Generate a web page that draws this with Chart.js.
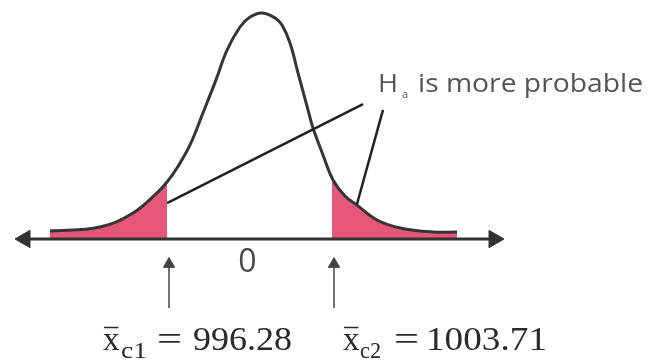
<!DOCTYPE html>
<html>
<head>
<meta charset="utf-8">
<script src="https://cdn.jsdelivr.net/npm/chart.js@4.4.1/dist/chart.umd.min.js"></script>
<style>
  html, body { margin: 0; padding: 0; background: #fff; }
  #wrap { width: 655px; height: 363px; position: relative; }
</style>
</head>
<body>
<div id="wrap"><canvas id="chart"></canvas></div>
<script>
// Sampling distribution sketch: positions along the axis and curve height (peak = 100)
const curveX = [-7.9, -5.9, -4.58, -3.62, -3.22, -2.82, -2.3, -1.78, -1.26, -0.82, -0.3, 0.1, 0.58,
                1.1, 1.38, 1.7, 2.02, 2.42, 2.62, 3.02, 3.42, 3.9, 4.38, 5.18, 6.1, 7.42, 8.38];
const curveY = [3.5, 5.3, 11.5, 20.4, 25.2, 31.4, 41.6, 55.8, 70.4, 83.6, 93.8, 98.2, 100,
                97.8, 94.7, 86.7, 73.5, 57.1, 49.1, 37.2, 26.1, 19.0, 15.0, 8.4, 4.9, 3.1, 3.1];

// rejection-region boundaries and the sample means they stand for
const criticalX = [-3.2, 3.4];
const criticalNames = ['c1', 'c2'];
const criticalValues = ['996.28', '1003.71'];
const centerLabel = '0';
const hypothesisText = 'is more probable';

// axis ends (arrowhead centres) and the pointer lines from the hypothesis text
const axisEnds = [-8.9, 9.86];
const pointerFrom = [{ x: 4.62, y: 59.7 }, { x: 5.42, y: 57.1 }];
const pointerTo = [{ x: -3.22, y: 15.9 }, { x: 4.38, y: 15.5 }];
const arrowSpan = [-30.5, -11.1];

const pink = 'rgb(230, 86, 118)';
const ink = '#333333';

// text layout for the two mean labels under the axis
const meanLayout = [
  { x: 103, sub: 121, subW: 26, eq: 157, value: 193, valueW: 99 },
  { x: 343, sub: 360, subW: 21, eq: 394, value: 426, valueW: 121 }
];

function tailFill(context) {
  const chart = context.chart;
  const area = chart.chartArea;
  if (!area) return 'rgba(0,0,0,0)';
  const xs = chart.scales.x;
  const left = xs.getPixelForValue(criticalX[0]);
  const right = xs.getPixelForValue(criticalX[1]);
  const g = chart.ctx.createLinearGradient(area.left, 0, area.right, 0);
  const w = area.right - area.left;
  const a = (left - area.left) / w;
  const b = (right - area.left) / w;
  g.addColorStop(0, pink);
  g.addColorStop(a, pink);
  g.addColorStop(a, 'rgba(255,255,255,0)');
  g.addColorStop(b, 'rgba(255,255,255,0)');
  g.addColorStop(b, pink);
  g.addColorStop(1, pink);
  return g;
}

// draw text squeezed or stretched horizontally to a given width
function fitText(ctx, text, left, baseline, width) {
  const w = ctx.measureText(text).width;
  ctx.save();
  ctx.translate(left, baseline);
  ctx.scale(width / w, 1);
  ctx.fillText(text, 0, 0);
  ctx.restore();
}

const sketchLabels = {
  id: 'sketchLabels',
  afterDatasetsDraw(chart) {
    const { ctx, scales: { x } } = chart;
    ctx.save();
    ctx.textBaseline = 'alphabetic';

    // centre label
    ctx.fillStyle = '#4a4a4a';
    ctx.font = '32px "Open Sans"';
    ctx.textAlign = 'center';
    ctx.fillText(centerLabel, x.getPixelForValue(0), 272);

    // hypothesis callout text
    ctx.textAlign = 'left';
    ctx.fillStyle = '#555';
    ctx.font = '26px "Open Sans"';
    fitText(ctx, 'H', 378, 92, 20);
    ctx.font = '11px "Open Sans"';
    ctx.fillText('a', 402, 98);
    ctx.font = '26px "Open Sans"';
    fitText(ctx, hypothesisText, 418, 92, 225);

    // critical sample means under the arrows
    ctx.fillStyle = '#2a2a2a';
    ctx.strokeStyle = '#2a2a2a';
    ctx.lineWidth = 1.5;
    meanLayout.forEach((m, i) => {
      ctx.font = '33px "Liberation Serif"';
      ctx.fillText('x', m.x, 350);
      const xw = ctx.measureText('x').width;
      ctx.beginPath();
      ctx.moveTo(m.x + 1, 327.5);
      ctx.lineTo(m.x + xw - 1, 327.5);
      ctx.stroke();
      ctx.font = '23px "Liberation Serif"';
      fitText(ctx, criticalNames[i], m.sub, 358, m.subW);
      ctx.font = '33px "Liberation Serif"';
      fitText(ctx, '=', m.eq, 350, 25);
      fitText(ctx, criticalValues[i], m.value, 350, m.valueW);
    });
    ctx.restore();
  }
};

const curveData = curveX.map((v, i) => ({ x: v, y: curveY[i] }));

const datasets = [
  // pointer lines from the text to both tails
  ...pointerFrom.map((p, i) => ({
    data: [p, pointerTo[i]],
    borderColor: '#222',
    borderWidth: 2.5,
    pointRadius: 0
  })),
  // horizontal axis with arrowheads
  {
    data: axisEnds.map(v => ({ x: v, y: 0 })),
    borderColor: ink,
    borderWidth: 3,
    pointStyle: 'triangle',
    pointRadius: 10,
    pointRotation: [-90, 90],
    pointBackgroundColor: ink,
    pointBorderColor: ink,
    pointBorderWidth: 1
  },
  // upward arrows at the critical values
  ...criticalX.map(c => ({
    data: arrowSpan.map(v => ({ x: c + 0.06, y: v })),
    borderColor: '#444',
    borderWidth: 1.5,
    pointStyle: 'triangle',
    pointRadius: [0, 6.5],
    pointBackgroundColor: '#444',
    pointBorderColor: '#444',
    pointBorderWidth: 1
  })),
  // the distribution curve, tails shaded
  {
    data: curveData,
    borderColor: '#353535',
    borderWidth: 3,
    tension: 0.4,
    pointRadius: 0,
    fill: 'origin',
    backgroundColor: tailFill
  }
];

new Chart(document.getElementById('chart'), {
  type: 'line',
  data: { datasets },
  options: {
    responsive: true,
    maintainAspectRatio: false,
    animation: false,
    clip: false,
    layout: { padding: 0, autoPadding: false },
    plugins: { legend: { display: false }, tooltip: { enabled: false } },
    scales: {
      x: { type: 'linear', display: false, min: -9.9, max: 16.3 },
      y: { display: false, min: -54.87, max: 105.75 }
    }
  },
  plugins: [sketchLabels]
});
</script>
</body>
</html>
